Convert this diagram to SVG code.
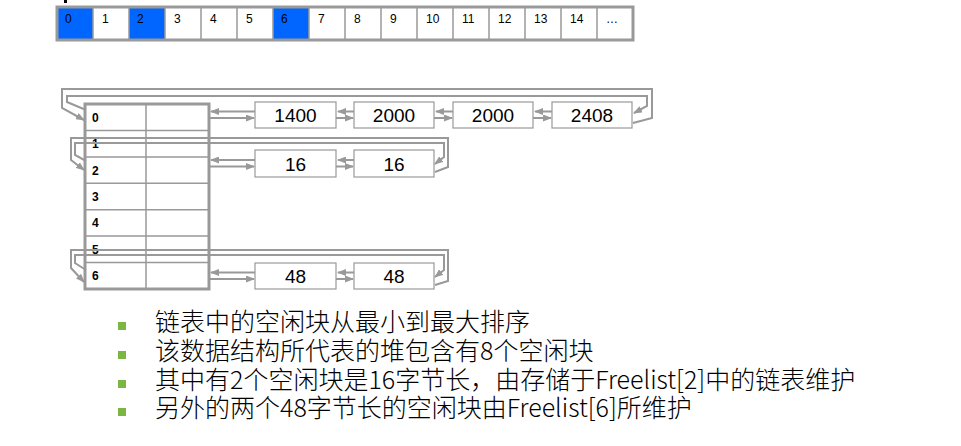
<svg xmlns="http://www.w3.org/2000/svg" width="961" height="446" viewBox="0 0 961 446">
<defs>
<marker id="ah" markerWidth="9" markerHeight="7" refX="8" refY="3.5" orient="auto" markerUnits="userSpaceOnUse">
<path d="M0,0 L9,3.5 L0,7 z" fill="#999"/>
</marker>
<style>
.cellTxt{font-family:"Liberation Sans",Arial,sans-serif;font-size:12px;fill:#000}
.rowTxt{font-family:"Liberation Sans",Arial,sans-serif;font-size:12px;font-weight:bold;fill:#000}
.boxTxt{font-family:"Liberation Sans",Arial,sans-serif;font-size:19px;fill:#000;text-anchor:middle}
.box{fill:#fff;stroke:#999;stroke-width:1.2}
.grid{stroke:#999;stroke-width:1.5;fill:none}
.conn{stroke:#999;stroke-width:2;fill:none}
.bul{font-family:"Noto Sans CJK SC","Liberation Sans",sans-serif;font-size:25px;font-weight:300;fill:#000}
.sq{fill:#7DB543}
</style>
</defs>
<rect width="961" height="446" fill="#fff"/>
<rect x="64" y="0" width="3" height="3" fill="#000"/>
<g id="array">
<rect x="57" y="7" width="36" height="33" fill="#0066FF"/>
<rect x="129" y="7" width="36" height="33" fill="#0066FF"/>
<rect x="273" y="7" width="36" height="33" fill="#0066FF"/>
<path class="grid" d="M93,7V40M129,7V40M165,7V40M201,7V40M237,7V40M273,7V40M309,7V40M345,7V40M381,7V40M417,7V40M453,7V40M489,7V40M525,7V40M561,7V40M597,7V40"/>
<rect x="57" y="7" width="576" height="33" fill="none" stroke="#999" stroke-width="3"/>
<text class="cellTxt" x="65" y="23">0</text>
<text class="cellTxt" x="102" y="23">1</text>
<text class="cellTxt" x="137" y="23">2</text>
<text class="cellTxt" x="174" y="23">3</text>
<text class="cellTxt" x="210" y="23">4</text>
<text class="cellTxt" x="246" y="23">5</text>
<text class="cellTxt" x="281" y="23">6</text>
<text class="cellTxt" x="318" y="23">7</text>
<text class="cellTxt" x="354" y="23">8</text>
<text class="cellTxt" x="390" y="23">9</text>
<text class="cellTxt" x="426" y="23">10</text>
<text class="cellTxt" x="462" y="23">11</text>
<text class="cellTxt" x="498" y="23">12</text>
<text class="cellTxt" x="534" y="23">13</text>
<text class="cellTxt" x="570" y="23">14</text>
<text class="cellTxt" x="606" y="23">…</text>
</g>
<g id="freelist">
<rect x="85" y="104" width="124" height="185" fill="#fff" stroke="#999" stroke-width="3"/>
<path class="grid" d="M146,104V289M85,130.4H209M85,156.9H209M85,183.3H209M85,209.7H209M85,236.1H209M85,262.6H209"/>
<text class="rowTxt" x="92" y="121.5">0</text>
<text class="rowTxt" x="92" y="148">1</text>
<text class="rowTxt" x="92" y="174.5">2</text>
<text class="rowTxt" x="92" y="201">3</text>
<text class="rowTxt" x="92" y="227">4</text>
<text class="rowTxt" x="92" y="253.5">5</text>
<text class="rowTxt" x="92" y="280">6</text>
</g>
<g id="n1400"><rect class="box" x="255" y="102" width="81" height="26"/><text class="boxTxt" x="295.5" y="122">1400</text></g>
<g id="n2000a"><rect class="box" x="354" y="102" width="80" height="26"/><text class="boxTxt" x="394" y="122">2000</text></g>
<g id="n2000b"><rect class="box" x="453" y="102" width="80" height="26"/><text class="boxTxt" x="493" y="122">2000</text></g>
<g id="n2408"><rect class="box" x="552" y="102" width="80" height="26"/><text class="boxTxt" x="592" y="122">2408</text></g>
<g id="n16a"><rect class="box" x="255" y="150" width="81" height="27"/><text class="boxTxt" x="295.5" y="170.5">16</text></g>
<g id="n16b"><rect class="box" x="354" y="150" width="80" height="27"/><text class="boxTxt" x="394" y="170.5">16</text></g>
<g id="n48a"><rect class="box" x="255" y="263" width="81" height="26"/><text class="boxTxt" x="295.5" y="283">48</text></g>
<g id="n48b"><rect class="box" x="354" y="263" width="80" height="26"/><text class="boxTxt" x="394" y="283">48</text></g>
<g id="connectors">
<path class="conn" d="M255,111.5H211" marker-end="url(#ah)"/>
<path class="conn" d="M210,118H254" marker-end="url(#ah)"/>
<path class="conn" d="M354,111.5H338" marker-end="url(#ah)"/>
<path class="conn" d="M336,118H353" marker-end="url(#ah)"/>
<path class="conn" d="M453,111.5H436" marker-end="url(#ah)"/>
<path class="conn" d="M434,118H452" marker-end="url(#ah)"/>
<path class="conn" d="M552,111.5H535" marker-end="url(#ah)"/>
<path class="conn" d="M533,118H551" marker-end="url(#ah)"/>
<path class="conn" d="M633,123L652,118V89H62V108L84,120" marker-end="url(#ah)"/>
<path class="conn" d="M86,110L67,102V96H647V106L634,113" marker-end="url(#ah)"/>
<path class="conn" d="M255,160H211" marker-end="url(#ah)"/>
<path class="conn" d="M210,166.5H254" marker-end="url(#ah)"/>
<path class="conn" d="M354,160H338" marker-end="url(#ah)"/>
<path class="conn" d="M336,166.5H353" marker-end="url(#ah)"/>
<path class="conn" d="M435,172L448,167V138H71V160L84,170" marker-end="url(#ah)"/>
<path class="conn" d="M86,161L75,155V143H444V157L435,164" marker-end="url(#ah)"/>
<path class="conn" d="M255,272.5H211" marker-end="url(#ah)"/>
<path class="conn" d="M210,279H254" marker-end="url(#ah)"/>
<path class="conn" d="M354,272.5H338" marker-end="url(#ah)"/>
<path class="conn" d="M336,279H353" marker-end="url(#ah)"/>
<path class="conn" d="M435,285L448,281V250H71V268L84,282" marker-end="url(#ah)"/>
<path class="conn" d="M86,270L75,263V255H444V270L435,277" marker-end="url(#ah)"/>
</g>
<g id="notes">
<rect class="sq" x="118" y="322" width="8" height="8"/>
<rect class="sq" x="118" y="351" width="8" height="8"/>
<rect class="sq" x="118" y="380" width="8" height="8"/>
<rect class="sq" x="118" y="408" width="8" height="8"/>
<text class="bul" x="155" y="331">链表中的空闲块从最小到最大排序</text>
<text class="bul" x="155" y="360">该数据结构所代表的堆包含有8个空闲块</text>
<text class="bul" x="155" y="389">其中有2个空闲块是16字节长，由存储于Freelist[2]中的链表维护</text>
<text class="bul" x="155" y="417">另外的两个48字节长的空闲块由Freelist[6]所维护</text>
</g>
</svg>
